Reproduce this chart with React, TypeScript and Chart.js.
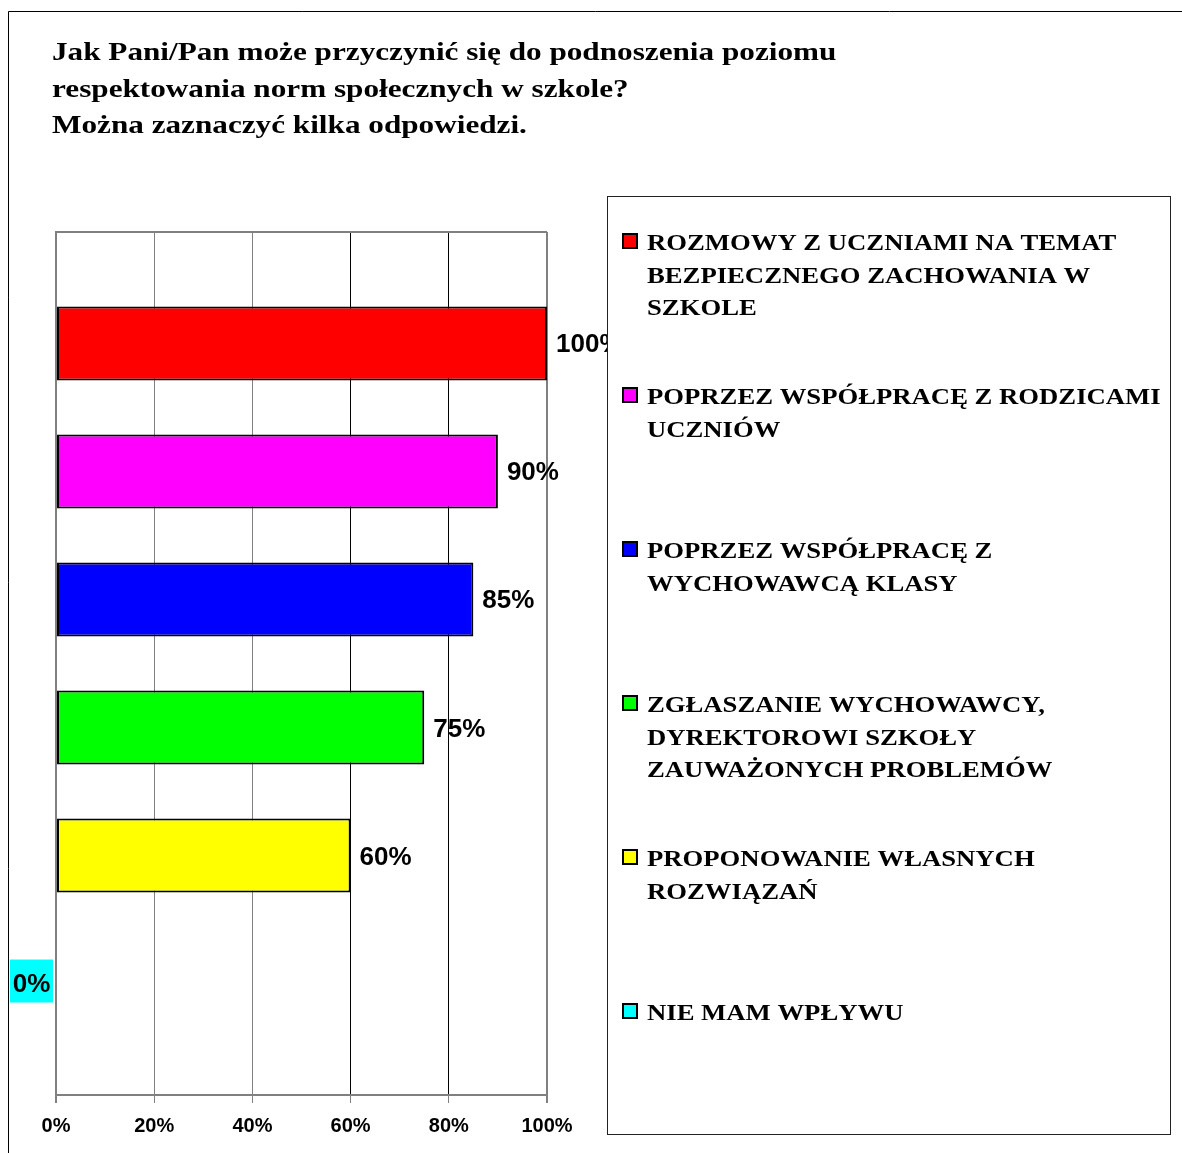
import React, { useEffect, useRef } from "react";
import { Chart, registerables } from "chart.js";

Chart.register(...registerables);

const TITLE_LINES = [
  "Jak Pani/Pan może przyczynić się do podnoszenia poziomu",
  "respektowania norm społecznych w szkole?",
  "Można zaznaczyć kilka odpowiedzi.",
];

const CATEGORIES = [""];

const SERIES_NAMES = [
  "ROZMOWY Z UCZNIAMI NA TEMAT BEZPIECZNEGO ZACHOWANIA W SZKOLE",
  "POPRZEZ WSPÓŁPRACĘ Z RODZICAMI UCZNIÓW",
  "POPRZEZ WSPÓŁPRACĘ Z WYCHOWAWCĄ KLASY",
  "ZGŁASZANIE WYCHOWAWCY, DYREKTOROWI SZKOŁY ZAUWAŻONYCH PROBLEMÓW",
  "PROPONOWANIE WŁASNYCH ROZWIĄZAŃ",
  "NIE MAM WPŁYWU",
];

const LEGEND_LINES = [
  ["ROZMOWY Z UCZNIAMI NA TEMAT", "BEZPIECZNEGO ZACHOWANIA W", "SZKOLE"],
  ["POPRZEZ WSPÓŁPRACĘ Z RODZICAMI", "UCZNIÓW"],
  ["POPRZEZ WSPÓŁPRACĘ Z", "WYCHOWAWCĄ KLASY"],
  ["ZGŁASZANIE WYCHOWAWCY,", "DYREKTOROWI SZKOŁY", "ZAUWAŻONYCH PROBLEMÓW"],
  ["PROPONOWANIE WŁASNYCH", "ROZWIĄZAŃ"],
  ["NIE MAM WPŁYWU"],
];

const SERIES_VALUES = [100, 90, 85, 75, 60, 0];

const SERIES_COLORS = ["#FF0000", "#FF00FF", "#0000FF", "#00FF00", "#FFFF00", "#00FFFF"];

const X_TICKS = [0, 20, 40, 60, 80, 100];

const W = 1182;
const H = 1153;

function stretchedText(ctx: CanvasRenderingContext2D, text: string, x: number, y: number, sx: number) {
  ctx.save();
  ctx.translate(x, y);
  ctx.scale(sx, 1);
  ctx.fillText(text, 0, 0);
  ctx.restore();
}

const overlayPlugin = {
  id: "overlay",
  afterDatasetsDraw(chart: any) {
    const ctx = chart.ctx;
    ctx.save();
    ctx.font = 'bold 26px "Liberation Sans", Arial, sans-serif';
    ctx.fillStyle = "#000";
    ctx.textBaseline = "alphabetic";
    chart.data.datasets.forEach((ds: any, i: number) => {
      const meta = chart.getDatasetMeta(i);
      const el: any = meta.data[0];
      if (!el) return;
      const v = ds.data[0];
      const text = `${v}%`;
      if (v === 0) {
        const left = chart.chartArea.left;
        ctx.fillStyle = ds.backgroundColor;
        ctx.fillRect(left - 46, el.y - 24, 43, 43);
        ctx.fillStyle = "#000";
        ctx.textAlign = "center";
        ctx.fillText(text, left - 24.5, el.y + 8);
      } else {
        ctx.textAlign = "left";
        ctx.fillText(text, el.x + 9, el.y + 9);
      }
    });
    ctx.restore();
  },
  afterDraw(chart: any) {
    const ctx = chart.ctx;
    ctx.save();
    // outer frame
    ctx.strokeStyle = "#000";
    ctx.lineWidth = 1;
    ctx.beginPath();
    ctx.moveTo(8.5, H + 5);
    ctx.lineTo(8.5, 11.5);
    ctx.lineTo(W + 5, 11.5);
    ctx.stroke();

    // title
    ctx.fillStyle = "#000";
    ctx.font = 'bold 26px "Liberation Serif", "Times New Roman", serif';
    ctx.textAlign = "left";
    ctx.textBaseline = "alphabetic";
    TITLE_LINES.forEach((line, i) => {
      stretchedText(ctx, line, 52, 60 + i * 36.5, 1.2);
    });

    // legend box
    const bx = 607.5, by = 196.5, bw = 563, bh = 938;
    ctx.fillStyle = "#fff";
    ctx.fillRect(bx, by, bw, bh);
    ctx.strokeStyle = "#222";
    ctx.lineWidth = 1;
    ctx.strokeRect(bx, by, bw, bh);

    ctx.font = 'bold 23px "Liberation Serif", "Times New Roman", serif';
    LEGEND_LINES.forEach((lines, i) => {
      const top = 234 + i * 154;
      ctx.fillStyle = SERIES_COLORS[i];
      ctx.fillRect(623, top, 14, 14);
      ctx.strokeStyle = "#000";
      ctx.lineWidth = 2;
      ctx.strokeRect(623, top, 14, 14);
      ctx.fillStyle = "#000";
      lines.forEach((ln, j) => {
        stretchedText(ctx, ln, 647, 250 + i * 154 + j * 32.5, 1.16);
      });
    });
    ctx.restore();
  },
};

export default function App() {
  const ref = useRef<HTMLCanvasElement | null>(null);

  useEffect(() => {
    if (!ref.current) return;
    const chart = new Chart(ref.current, {
      type: "bar",
      data: {
        labels: CATEGORIES,
        datasets: SERIES_NAMES.map((name, i) => ({
          label: name,
          data: [SERIES_VALUES[i]],
          backgroundColor: SERIES_COLORS[i],
          borderColor: "#000",
          borderWidth: SERIES_VALUES[i] === 0 ? 0 : 2,
          borderSkipped: false,
          categoryPercentage: 0.89,
          barPercentage: 0.578,
        })),
      },
      options: {
        indexAxis: "y",
        responsive: false,
        animation: false,
        devicePixelRatio: 1,
        layout: { padding: { left: 56, right: W - 547, top: 232, bottom: 0 } },
        plugins: {
          legend: { display: false },
          title: { display: false },
          tooltip: { enabled: false },
        },
        scales: {
          x: {
            type: "linear",
            min: 0,
            max: 100,
            afterBuildTicks: (scale: any) => {
              scale.ticks = X_TICKS.map((v) => ({ value: v }));
            },
            afterFit: (scale: any) => {
              scale.height = H - 1095;
            },
            ticks: {
              callback: (v: any) => `${v}%`,
              color: "#000",
              font: { family: '"Liberation Sans", Arial, sans-serif', size: 20, weight: "bold" },
              padding: 11,
              maxRotation: 0,
              autoSkip: false,
            },
            grid: {
              color: (c: any) => (c.tick && (c.tick.value === 60 || c.tick.value === 80) ? "#000" : "#808080"),
              tickColor: "#808080",
              lineWidth: (c: any) => (c.tick && (c.tick.value === 100 || c.tick.value === 0) ? 2 : 1),
              tickLength: 8,
              drawTicks: true,
            },
            border: { display: true, color: "#808080", width: 2 },
          },
          y: {
            ticks: { display: false },
            grid: { color: "#808080", lineWidth: 2, drawTicks: false, tickLength: 0 },
            border: { display: true, color: "#808080", width: 2 },
            afterFit: (scale: any) => {
              scale.width = 0;
            },
          },
        },
      },
      plugins: [overlayPlugin],
    } as any);
    return () => chart.destroy();
  }, []);

  return (
    <div style={{ position: "absolute", left: 0, top: 0, width: W, height: H, background: "#fff" }}>
      <canvas ref={ref} width={W} height={H} style={{ display: "block" }} />
    </div>
  );
}
